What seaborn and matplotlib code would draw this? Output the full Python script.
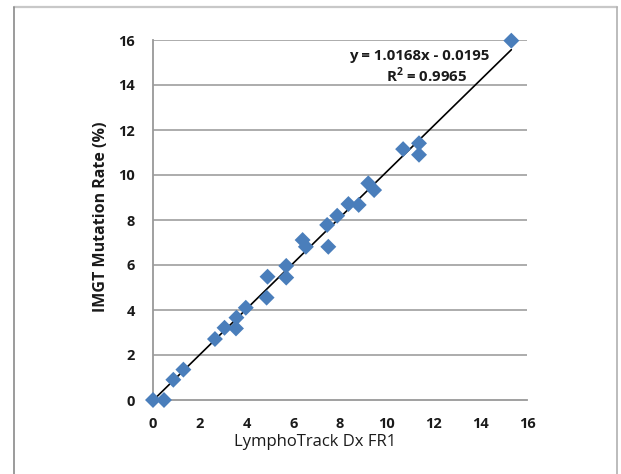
import matplotlib
matplotlib.use("Agg")
import matplotlib.pyplot as plt
import seaborn as sns
import numpy as np
import pandas as pd
from matplotlib.lines import Line2D

# ---- data ----
lymphotrack = [0.0, 0.47, 0.87, 1.30, 2.65, 3.06, 3.55, 3.57, 3.97, 4.86, 4.90, 5.70, 5.70,
               6.40, 6.54, 7.50, 7.45, 7.88, 8.36, 8.80, 9.21, 9.46, 10.70, 11.38, 11.38, 15.33]
imgt = [0.0, 0.0, 0.90, 1.35, 2.71, 3.21, 3.18, 3.66, 4.10, 4.55, 5.48, 5.44, 5.96,
        7.11, 6.81, 6.81, 7.78, 8.19, 8.71, 8.67, 9.63, 9.33, 11.15, 11.41, 10.90, 15.97]
slope = 1.0168
intercept = -0.0195
eq_text = "y = 1.0168x - 0.0195"
r2_text = "R$^\\mathbf{2}$ = 0.9965"
ticks = [0, 2, 4, 6, 8, 10, 12, 14, 16]
x_label = "LymphoTrack Dx FR1"
y_label = "IMGT Mutation Rate (%)"

df = pd.DataFrame({"x": lymphotrack, "y": imgt})
x_fit = np.array([min(lymphotrack), max(lymphotrack)])
fit = pd.DataFrame({"x": x_fit, "y": slope * x_fit + intercept})

sns.set_style("white")
plt.rcParams["font.family"] = ["Open Sans", "DejaVu Sans"]
plt.rcParams["mathtext.fontset"] = "custom"
plt.rcParams["mathtext.bf"] = "Open Sans:bold"
plt.rcParams["mathtext.rm"] = "Open Sans"

W, H = 621, 474
fig = plt.figure(figsize=(W / 100, H / 100), dpi=100)
ax = fig.add_axes([153 / W, 1 - 400 / H, 374 / W, 360 / H])

grid_c = "#a6a6a6"
for t in ticks[1:]:
    ax.axhline(t, color=grid_c, lw=1.3, zorder=0)

sns.lineplot(data=fit, x="x", y="y", ax=ax, color="black", lw=1.2, zorder=2)
sns.scatterplot(data=df, x="x", y="y", ax=ax, marker="D", s=66, color="#4a7ebb",
                edgecolor="none", zorder=3, clip_on=False)

ax.set_xlim(0, 16)
ax.set_ylim(0, 16)
ax.set_xticks(ticks)
ax.set_yticks(ticks)
ax.set_xticklabels([str(t) for t in ticks], fontweight="bold", fontsize=10.5, color="#1a1a1a")
ax.set_yticklabels([str(t) for t in ticks], fontweight="bold", fontsize=10.5, color="#1a1a1a")
ax.tick_params(axis="both", direction="out", length=6, width=1.2, color=grid_c, pad=7)
ax.tick_params(axis="x", pad=6)

for s in ["top", "right"]:
    ax.spines[s].set_visible(False)
for s in ["left", "bottom"]:
    ax.spines[s].set_color("#999999")
    ax.spines[s].set_linewidth(1.3)

ax.set_xlabel("")
ax.set_ylabel("")
fig.text(315 / W, 1 - 442 / H, x_label, ha="center", va="center", fontsize=12,
         color="#1a1a1a")
fig.text(101 / W, 1 - 217 / H, y_label, ha="center", va="center", rotation=90,
         fontsize=11.5, fontweight="bold", color="#1a1a1a")

ax.text(11.4, 15.29, eq_text, ha="center", va="center", fontsize=10.8,
        fontweight="bold", color="#1a1a1a")
ax.text(11.7, 14.44, r2_text, ha="center", va="center", fontsize=10.8,
        fontweight="bold", color="#1a1a1a")

# outer frame
fx0, fx1, fy0 = 14 / W, 617 / W, 1 - 7 / H
fig.add_artist(Line2D([fx0, fx1], [fy0, fy0], color="#c8c8c8", lw=1.6))
fig.add_artist(Line2D([fx0, fx0], [fy0, 0], color="#8a8a8a", lw=1.2))
fig.add_artist(Line2D([fx1, fx1], [fy0, 0], color="#b0b0b0", lw=1.2))

fig.savefig("out.png", dpi=100)
